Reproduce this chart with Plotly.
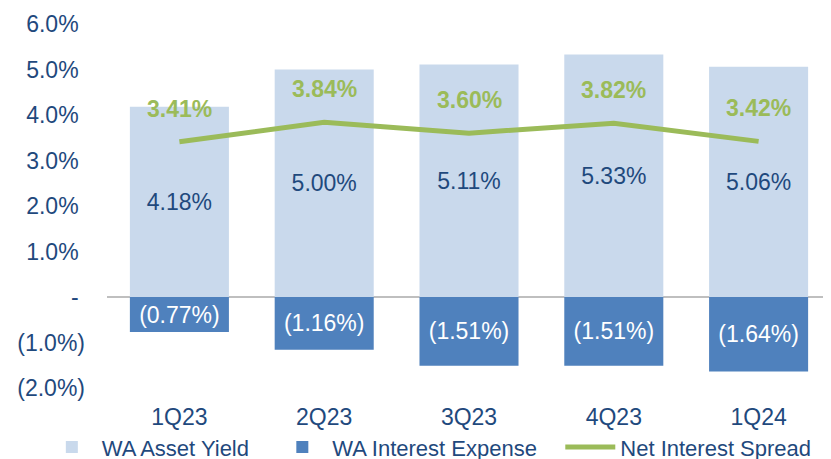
import plotly.graph_objects as go

quarters = ["1Q23", "2Q23", "3Q23", "4Q23", "1Q24"]
asset_yield = [4.18, 5.00, 5.11, 5.33, 5.06]
interest_expense = [-0.77, -1.16, -1.51, -1.51, -1.64]
net_spread = [3.41, 3.84, 3.60, 3.82, 3.42]
y_tick_vals = [-2, -1, 0, 1, 2, 3, 4, 5, 6]
y_tick_text = ["(2.0%)", "(1.0%)", "-\u00a0", "1.0%\u00a0", "2.0%\u00a0", "3.0%\u00a0",
               "4.0%\u00a0", "5.0%\u00a0", "6.0%\u00a0"]

FONT = "Liberation Sans, Arial, sans-serif"
DARK = "#1F497D"
GREEN = "#9BBB59"
FS = 23

def fmt(v):
    return f"({abs(v):.2f}%)" if v < 0 else f"{v:.2f}%"

fig = go.Figure()
fig.add_trace(go.Bar(
    x=quarters, y=asset_yield, name="WA Asset Yield\u00a0\u00a0\u00a0",
    marker=dict(color="#C9D9EC", line=dict(width=0)),
    text=[fmt(v) for v in asset_yield], textposition="inside",
    insidetextanchor="middle", textangle=0,
    textfont=dict(color=DARK, size=FS, family=FONT),
))
fig.add_trace(go.Bar(
    x=quarters, y=interest_expense, name="WA Interest Expense\u00a0\u00a0\u00a0",
    marker=dict(color="#4F81BD", line=dict(width=0)),
    text=[fmt(v) for v in interest_expense], textposition="inside",
    insidetextanchor="middle", textangle=0,
    textfont=dict(color="white", size=FS, family=FONT),
))
fig.add_trace(go.Scatter(
    x=quarters, y=net_spread, name="Net Interest Spread", mode="lines",
    line=dict(color=GREEN, width=5),
))
for q, v in zip(quarters, net_spread):
    fig.add_annotation(x=q, y=v, text=f"<b>{v:.2f}%</b>", showarrow=False,
                       yshift=33, font=dict(color=GREEN, size=FS, family=FONT))

fig.update_layout(
    width=831, height=459,
    margin=dict(l=99, r=8, t=16, b=79, autoexpand=False),
    paper_bgcolor="white", plot_bgcolor="white",
    barmode="relative", bargap=0.316,
    font=dict(family=FONT, size=FS, color=DARK),
    uniformtext=dict(mode="show", minsize=10),
    showlegend=True,
    legend=dict(orientation="h", x=-0.09, xanchor="left", y=-0.105, yanchor="top",
                bgcolor="rgba(0,0,0,0)",
                font=dict(size=22, color=DARK), itemwidth=50, tracegroupgap=0,
                traceorder="normal"),
    xaxis=dict(showgrid=False, showline=False, ticks="", ticklabelstandoff=13,
               automargin=False, tickfont=dict(size=FS, color=DARK)),
    yaxis=dict(range=[-2, 6], tickvals=y_tick_vals, ticktext=y_tick_text,
               showgrid=False, zeroline=True, zerolinecolor="#BFBFBF", zerolinewidth=2,
               automargin=False, ticks="", ticklabelstandoff=21,
               tickfont=dict(size=FS, color=DARK)),
)

fig.write_html("out.html")
